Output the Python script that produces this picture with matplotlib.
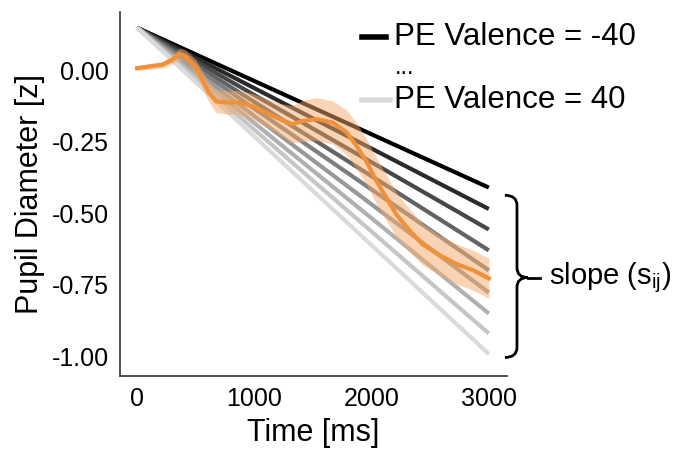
import matplotlib
matplotlib.use('Agg')
import matplotlib.pyplot as plt
import numpy as np
from matplotlib.path import Path
from matplotlib.patches import PathPatch
from matplotlib.lines import Line2D

plt.rcParams['font.family'] = ['Liberation Sans', 'DejaVu Sans']
plt.rcParams['mathtext.fontset'] = 'custom'
plt.rcParams['mathtext.rm'] = 'Liberation Sans'

# regression lines for PE valence -40 ... 40
valences = [-40, -30, -20, -10, 0, 10, 20, 30, 40]
line_start = 0.15
line_ends = [-0.41, -0.485, -0.557, -0.630, -0.700, -0.778, -0.851, -0.921, -0.993]
line_grays = ['#000000', '#2a2a2a', '#474747', '#636363', '#7e7e7e', '#989898', '#b0b0b0', '#c6c6c6', '#dadada']

# mean pupil trace
time_ms = [0, 100, 215, 300, 360, 415, 500, 555, 615, 675, 760, 870, 985, 1100, 1215,
           1325, 1410, 1530, 1667, 1786, 1872, 1957, 2043, 2128, 2214, 2325, 2436,
           2581, 2726, 2863, 3000]
pupil = [0.008, 0.014, 0.02, 0.037, 0.058, 0.05, 0.014, -0.032, -0.077, -0.108, -0.112,
         -0.112, -0.125, -0.147, -0.17, -0.188, -0.177, -0.17, -0.182, -0.216, -0.264,
         -0.319, -0.388, -0.447, -0.506, -0.561, -0.609, -0.647, -0.678, -0.699, -0.728]
band_hw = [0.008, 0.01, 0.012, 0.015, 0.02, 0.022, 0.025, 0.03, 0.035, 0.04, 0.04,
           0.042, 0.045, 0.05, 0.055, 0.065, 0.072, 0.075, 0.075, 0.078, 0.08, 0.08,
           0.08, 0.08, 0.078, 0.075, 0.072, 0.07, 0.07, 0.07, 0.07]

fig = plt.figure(figsize=(6.76, 4.53), dpi=100)
ax = fig.add_axes([120/676, 1-376/453, (507-120)/676, (376-12)/453])

for v, end, c in zip(valences, line_ends, line_grays):
    ax.plot([0, 3000], [line_start, end], color=c, lw=3, solid_capstyle='butt', zorder=2)

t = np.array(time_ms)
p = np.array(pupil)
hw = np.array(band_hw)
ax.fill_between(t, p - hw, p + hw, color='#f5a868', alpha=0.5, lw=0, zorder=3)
ax.plot(t, p, color='#f0913a', lw=3, zorder=4, solid_joinstyle='round')

ax.set_xlim(-145, 3155)
ax.set_ylim(-1.07, 0.205)
ax.set_xticks([0, 1000, 2000, 3000])
ax.set_yticks([0, -0.25, -0.5, -0.75, -1.0])
ax.set_yticklabels(['0.00', '-0.25', '-0.50', '-0.75', '-1.00'])
ax.tick_params(length=0, labelsize=18, pad=8)
for s in ['top', 'right']:
    ax.spines[s].set_visible(False)
for s in ['left', 'bottom']:
    ax.spines[s].set_linewidth(1.2)
    ax.spines[s].set_color('#333333')
ax.set_xlabel('Time [ms]', fontsize=22, labelpad=5)
ax.set_ylabel('Pupil Diameter [z]', fontsize=22, labelpad=5)

# brace and label
bx0, bx1, bxt, bx2 = 3137, 3240, 3333, 3436
yt, ym, yb = -0.437, -0.725, -1.005
verts = [(bx0, yt), (bx1, yt), (bx1, yt - 0.035),
         (bx1, ym + 0.035), (bx1, ym), (bxt, ym),
         (bx1, ym), (bx1, ym - 0.035),
         (bx1, yb + 0.035), (bx1, yb), (bx0, yb)]
codes = [Path.MOVETO, Path.CURVE3, Path.CURVE3,
         Path.LINETO, Path.CURVE3, Path.CURVE3,
         Path.CURVE3, Path.CURVE3,
         Path.LINETO, Path.CURVE3, Path.CURVE3]
ax.add_patch(PathPatch(Path(verts, codes), fill=False, lw=2, edgecolor='black', clip_on=False))
ax.plot([bxt, bx2], [ym, ym], color='black', lw=2, clip_on=False)
ax.text(3515, ym, r'slope (s$_{\mathrm{ij}}$)', fontsize=21, va='center', ha='left', clip_on=False)

# legend
fig.add_artist(Line2D([362/676, 386/676], [1-37/453, 1-37/453], color='black', lw=4))
fig.add_artist(Line2D([362/676, 390/676], [1-100/453, 1-100/453], color='#dadada', lw=4))
fig.text(394/676, 1-37/453, 'PE Valence = -40', fontsize=22.5, va='center')
fig.text(395/676, 1-68/453, '...', fontsize=17, va='center')
fig.text(394/676, 1-100/453, 'PE Valence = 40', fontsize=22.5, va='center')

fig.savefig('out.png', dpi=100)
